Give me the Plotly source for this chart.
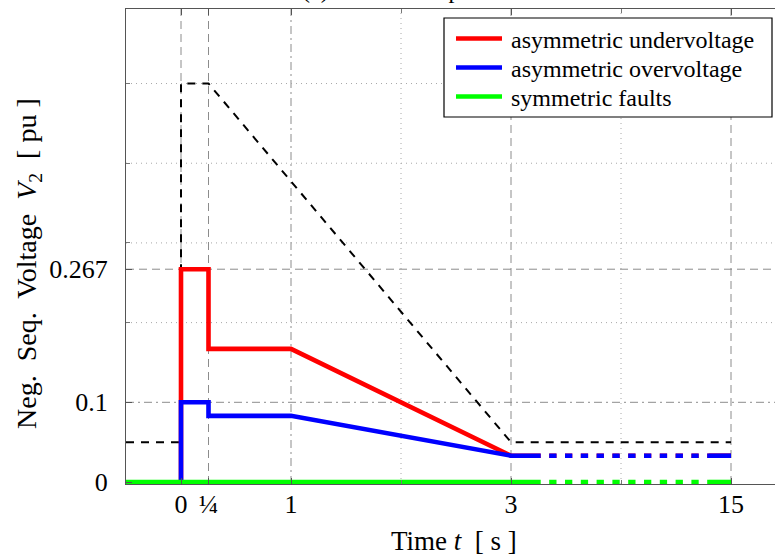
import plotly.graph_objects as go

# ---------------- data ----------------
# x positions on the (compressed) time axis; tick "15" sits at position 5
X_TICKS = [0, 0.25, 1, 3, 5]
X_TICK_TEXT = ["0", "¼", "1", "3", "15"]
X_MINOR = [2, 4]

Y_TICKS = [0, 0.1, 0.267]
Y_TICK_TEXT = ["0", "0.1", "0.267"]
Y_MINOR = [0.2, 0.3, 0.4, 0.5]

# limit (black dashed)
lim_t = [-0.5, 0, 0, 0.25, 3, 5]
lim_v = [0.05, 0.05, 0.5, 0.5, 0.05, 0.05]

# asymmetric undervoltage (red)
uv_t = [0, 0, 0.25, 0.25, 1, 3, 3.27]
uv_v = [0, 0.267, 0.267, 0.167, 0.167, 0.033, 0.033]

# asymmetric overvoltage (blue)
ov_t = [0, 0, 0.25, 0.25, 1, 3, 3.27]
ov_v = [0, 0.1, 0.1, 0.083, 0.083, 0.033, 0.033]

# symmetric faults (green)
sf_t = [-0.5, 3.27]
sf_v = [0, 0]

# continuation beyond the axis break
cont_t = [3.27, 4.8]
end_t = [4.8, 5]
uv_end = 0.033
ov_end = 0.033
sf_end = 0

SERIES_NAMES = ["asymmetric undervoltage", "asymmetric overvoltage", "symmetric faults"]

# ---------------- figure ----------------
W, H = 775, 558
L, R, T, B = 126, 0, 9, 74
XR = [-0.5, 5.4]
YR = [-0.0025, 0.5935]
FONT = "Liberation Serif"
RED, BLUE, GREEN = "#ff0000", "#0000ff", "#00ff00"
COLORS = [RED, BLUE, GREEN]
LW = 4.6
DOTS = "0px,8.5px,7.3px,0px"

fig = go.Figure()

fig.add_trace(go.Scatter(x=lim_t, y=lim_v, mode="lines", showlegend=False,
                         line=dict(color="black", width=2, dash="8px,7px")))

fig.add_trace(go.Scatter(x=uv_t, y=uv_v, mode="lines", name=SERIES_NAMES[0],
                         showlegend=False, line=dict(color=RED, width=LW)))
fig.add_trace(go.Scatter(x=cont_t, y=[uv_end] * 2, mode="lines", showlegend=False,
                         line=dict(color=RED, width=LW, dash=DOTS)))
fig.add_trace(go.Scatter(x=end_t, y=[uv_end] * 2, mode="lines", showlegend=False,
                         line=dict(color=RED, width=LW)))

fig.add_trace(go.Scatter(x=ov_t, y=ov_v, mode="lines", name=SERIES_NAMES[1],
                         showlegend=False, line=dict(color=BLUE, width=LW)))
fig.add_trace(go.Scatter(x=cont_t, y=[ov_end] * 2, mode="lines", showlegend=False,
                         line=dict(color=BLUE, width=LW, dash=DOTS)))
fig.add_trace(go.Scatter(x=end_t, y=[ov_end] * 2, mode="lines", showlegend=False,
                         line=dict(color=BLUE, width=LW)))

fig.add_trace(go.Scatter(x=sf_t, y=sf_v, mode="lines", name=SERIES_NAMES[2],
                         showlegend=False, line=dict(color=GREEN, width=LW)))
fig.add_trace(go.Scatter(x=cont_t, y=[sf_end] * 2, mode="lines", showlegend=False,
                         line=dict(color=GREEN, width=LW, dash=DOTS)))
fig.add_trace(go.Scatter(x=end_t, y=[sf_end] * 2, mode="lines", showlegend=False,
                         line=dict(color=GREEN, width=LW)))

pw = W - L - R
ph = H - T - B
def px_x(p):
    return (p - L) / pw
def px_y(p):
    return (H - B - p) / ph

# grid lines
GRID = "#8c8c8c"
MINOR_GRID = "#a8a8a8"
x_dash = {0: "8px,5px", 0.25: "8px,5px", 1: "8px,4px,2px,4px", 3: "8px,5px", 5: "8px,5px"}
for xv in X_TICKS:
    fig.add_shape(type="line", xref="x", yref="paper", x0=xv, x1=xv, y0=0, y1=1,
                  layer="below", line=dict(color=GRID, width=1, dash=x_dash[xv]))
for xv in X_MINOR:
    fig.add_shape(type="line", xref="x", yref="paper", x0=xv, x1=xv, y0=0, y1=1,
                  layer="below", line=dict(color=MINOR_GRID, width=1, dash="1px,4px"))
y_dash = {0.1: "8px,4px,2px,4px", 0.267: "8px,5px"}
for yv in Y_TICKS[1:]:
    fig.add_shape(type="line", xref="paper", yref="y", x0=0, x1=1, y0=yv, y1=yv,
                  layer="below", line=dict(color=GRID, width=1, dash=y_dash[yv]))
for yv in Y_MINOR:
    fig.add_shape(type="line", xref="paper", yref="y", x0=0, x1=1, y0=yv, y1=yv,
                  layer="below", line=dict(color=MINOR_GRID, width=1, dash="1px,4px"))

# legend (box, line samples, labels)
LEG_L, LEG_R, LEG_T, LEG_B = 444, 772, 18, 117
ROW_Y = [38.5, 67.5, 96.5]
fig.add_shape(type="rect", xref="paper", yref="paper",
              x0=px_x(LEG_L), x1=px_x(LEG_R), y0=px_y(LEG_B), y1=px_y(LEG_T),
              fillcolor="white", line=dict(color="black", width=1.2), layer="above")
annotations = []
for name, col, ry in zip(SERIES_NAMES, COLORS, ROW_Y):
    fig.add_shape(type="line", xref="paper", yref="paper",
                  x0=px_x(456), x1=px_x(502), y0=px_y(ry), y1=px_y(ry),
                  line=dict(color=col, width=LW), layer="above")
    annotations.append(dict(text=name, xref="paper", yref="paper",
                            x=px_x(509), y=px_y(ry + 1), xanchor="left", yanchor="middle",
                            showarrow=False, font=dict(family=FONT, size=24)))

annotations += [
    dict(text="Time&nbsp;<i>t</i>&nbsp; [&nbsp;s&nbsp;]", xref="paper", yref="paper",
         x=px_x(454), y=px_y(541), xanchor="center", yanchor="middle",
         showarrow=False, font=dict(family=FONT, size=27)),
    dict(text="Neg.&nbsp; Seq.&nbsp; Voltage&nbsp; <i>V</i><sub>2</sub>&nbsp; [&nbsp;pu&nbsp;]",
         xref="paper", yref="paper",
         x=px_x(28), y=px_y(264), xanchor="center", yanchor="middle",
         textangle=-90, showarrow=False, font=dict(family=FONT, size=28)),
    dict(text="(a) Current set-points", xref="paper", yref="paper",
         x=px_x(300), y=px_y(5), xanchor="left", yanchor="bottom",
         showarrow=False, font=dict(family=FONT, size=24)),
]

fig.update_layout(
    width=W, height=H,
    margin=dict(l=L, r=R, t=T, b=B, pad=0),
    paper_bgcolor="white", plot_bgcolor="white",
    font=dict(family=FONT, size=26, color="black"),
    showlegend=False,
    xaxis=dict(range=XR, tickmode="array", tickvals=X_TICKS, ticktext=X_TICK_TEXT,
               automargin=False,
               showgrid=False, zeroline=False, showline=True, linecolor="#555555",
               linewidth=1.3, mirror="ticks", ticks="inside", ticklen=6,
               tickcolor="#555555", tickfont=dict(family=FONT, size=26),
               ticklabelstandoff=-3,
               minor=dict(tickvals=X_MINOR, ticks="inside", ticklen=4,
                          tickcolor="#777777", showgrid=False)),
    yaxis=dict(range=YR, tickmode="array", tickvals=Y_TICKS, ticktext=Y_TICK_TEXT,
               automargin=False,
               showgrid=False, zeroline=False, showline=True, linecolor="#555555",
               linewidth=1.3, mirror=False, ticks="inside", ticklen=6,
               tickcolor="#555555", tickfont=dict(family=FONT, size=26),
               ticklabelstandoff=12,
               minor=dict(tickvals=Y_MINOR, ticks="inside", ticklen=4,
                          tickcolor="#777777", showgrid=False)),
    annotations=annotations,
)

fig.write_html("out.html", config={"displayModeBar": False},
               post_script="document.body.style.margin='0';document.body.style.overflow='hidden';")
